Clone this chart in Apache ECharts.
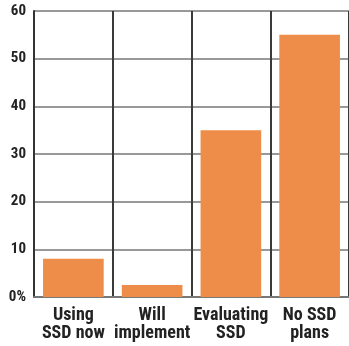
<!DOCTYPE html>
<html>
<head>
<meta charset="utf-8">
<script src="https://cdn.jsdelivr.net/npm/echarts@6/dist/echarts.min.js"></script>
<style>
  html, body { margin: 0; padding: 0; background: #fff; }
  #chart { width: 349px; height: 346px; }
</style>
</head>
<body>
<div id="chart"></div>
<script>
var categories = ['Using\nSSD now', 'Will\nimplement', 'Evaluating\nSSD', 'No SSD\nplans'];
var values = [8, 2.5, 35, 55];
var yTicks = [0, 10, 20, 30, 40, 50, 60];

var font = '"Roboto Condensed", "Liberation Sans", sans-serif';
var myChart = echarts.init(document.getElementById('chart'));

var option = {
  animation: false,
  grid: {
    left: 34,
    right: -2,
    top: 11,
    bottom: 49
  },
  xAxis: {
    type: 'category',
    data: categories,
    axisLine: { lineStyle: { color: '#777', width: 2 } },
    axisTick: { show: false },
    splitLine: { show: true, interval: 0, lineStyle: { color: '#3a3a3a', width: 2 } },
    axisLabel: {
      interval: 0,
      color: '#222',
      fontFamily: font,
      fontWeight: 'bold',
      fontSize: 18,
      lineHeight: 18,
      margin: 9
    }
  },
  yAxis: {
    type: 'value',
    min: 0,
    max: 60,
    interval: 10,
    axisLine: { show: true, lineStyle: { color: '#333', width: 2 } },
    axisTick: { show: false },
    splitLine: { lineStyle: { color: '#777', width: 1.5 } },
    axisLabel: {
      color: '#222',
      fontFamily: font,
      fontWeight: 'bold',
      fontSize: 15,
      margin: 8,
      formatter: function (v) {
        return v === yTicks[0] ? v + '%' : String(v);
      }
    }
  },
  series: [{
    type: 'bar',
    data: values,
    barWidth: '77%',
    itemStyle: { color: '#EE8C4A' }
  }]
};
myChart.setOption(option);
</script>
</body>
</html>
